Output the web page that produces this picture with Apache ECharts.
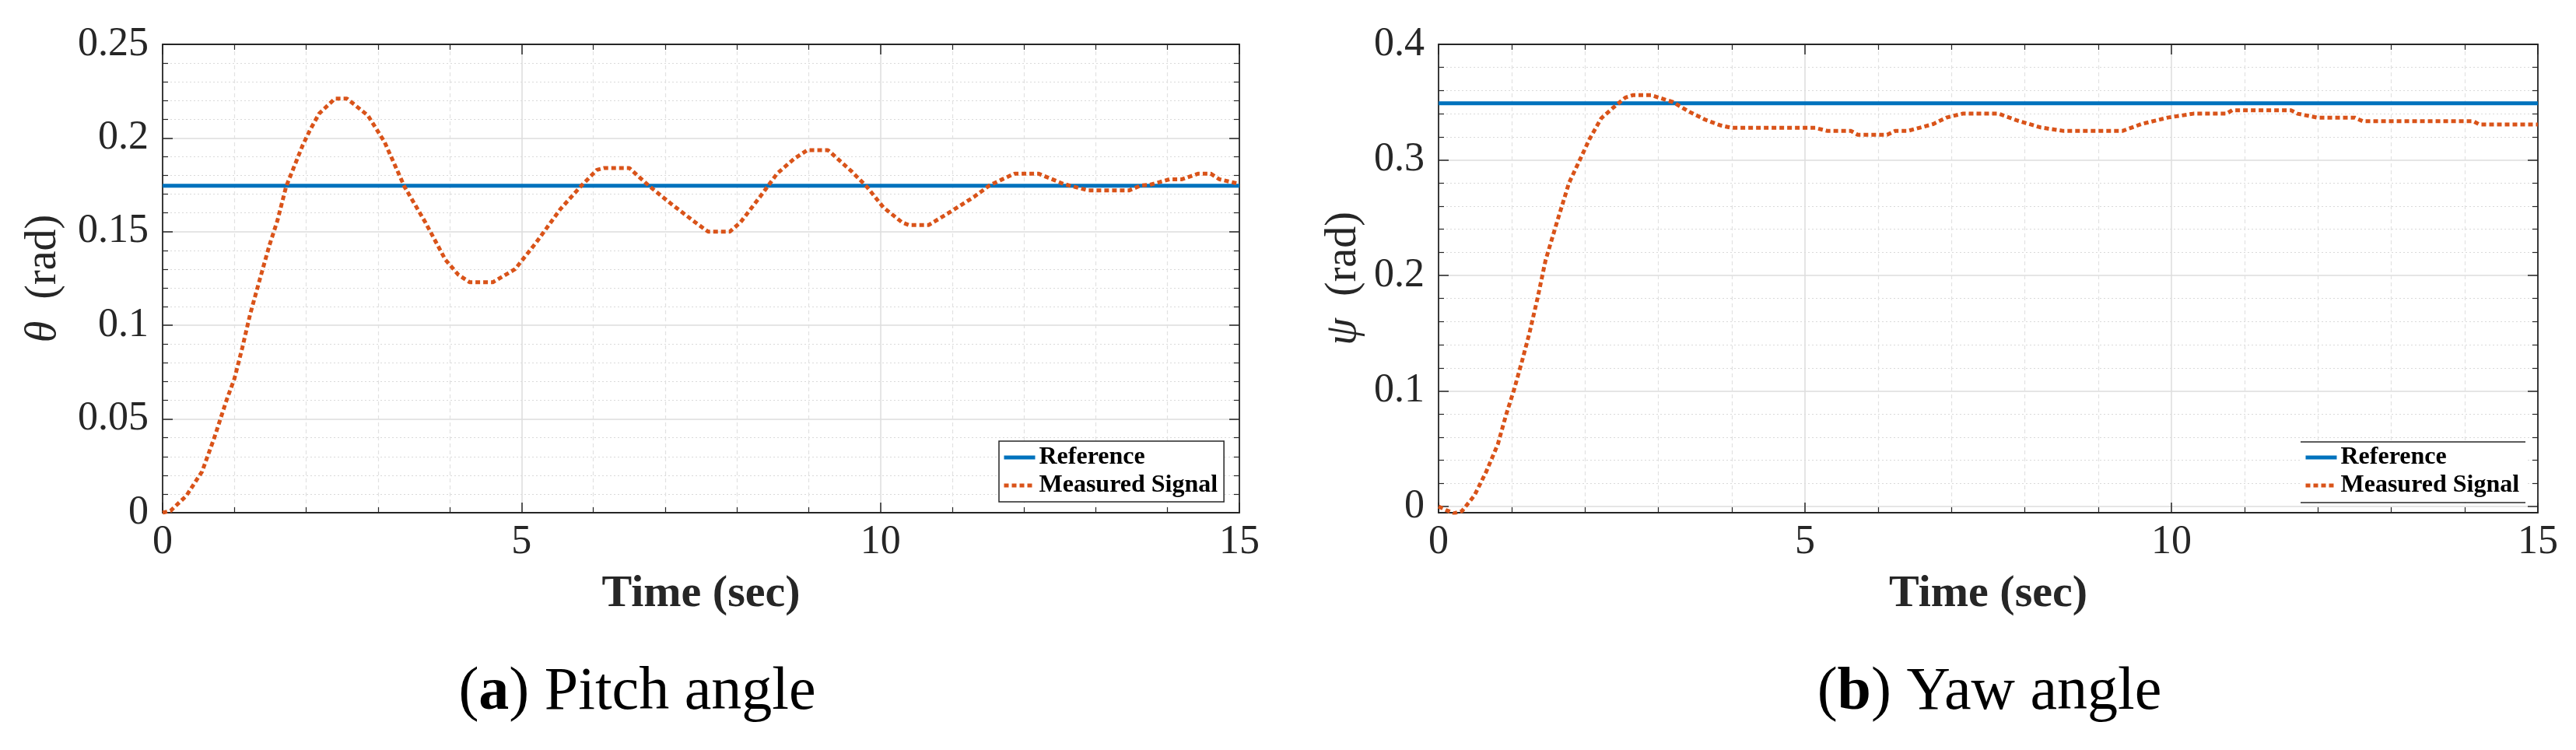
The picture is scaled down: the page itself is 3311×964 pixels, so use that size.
<!DOCTYPE html>
<html>
<head>
<meta charset="utf-8">
<script src="https://cdn.jsdelivr.net/npm/echarts@6/dist/echarts.min.js"></script>
<style>
html,body{margin:0;padding:0;background:#fff;}
#chart{width:3311px;height:964px;}
</style>
</head>
<body>
<div id="chart"></div>
<script>
// ---------------- data ----------------
const seriesNames = ['Reference', 'Measured Signal'];
const xTicks = [0, 5, 10, 15];
const pitchTicks = [0, 0.05, 0.1, 0.15, 0.2, 0.25];
const yawTicks = [0, 0.1, 0.2, 0.3, 0.4];

const pitchReference = 0.1745;
const pitchTime = [0, 0.11, 0.33, 0.55, 0.72, 0.89, 1.0, 1.11, 1.22, 1.35, 1.49, 1.6, 1.72, 1.95, 2.05, 2.18, 2.4, 2.57, 2.86, 3.09, 3.37, 3.66, 3.94, 4.12, 4.28, 4.6, 4.91, 5.2, 5.54, 5.82, 6.05, 6.15, 6.5, 6.79, 7.08, 7.42, 7.6, 7.9, 8.05, 8.33, 8.56, 8.8, 8.98, 9.27, 9.59, 9.81, 10.04, 10.3, 10.4, 10.67, 10.95, 11.3, 11.52, 11.7, 11.87, 12.2, 12.55, 12.9, 13.46, 13.63, 13.75, 14.03, 14.2, 14.43, 14.6, 14.72, 15.0];
const pitchMeasured = [0, 0.001, 0.009, 0.022, 0.040, 0.060, 0.0715, 0.088, 0.106, 0.124, 0.143, 0.156, 0.174, 0.196, 0.204, 0.213, 0.221, 0.221, 0.212, 0.198, 0.174, 0.155, 0.135, 0.127, 0.123, 0.123, 0.130, 0.144, 0.162, 0.174, 0.183, 0.184, 0.184, 0.174, 0.165, 0.155, 0.150, 0.150, 0.155, 0.169, 0.181, 0.189, 0.1935, 0.1935, 0.1825, 0.174, 0.163, 0.155, 0.1535, 0.1535, 0.160, 0.1685, 0.1747, 0.178, 0.181, 0.181, 0.1755, 0.172, 0.172, 0.1747, 0.175, 0.178, 0.178, 0.181, 0.181, 0.178, 0.1755];

const yawReference = 0.349;
const yawTime = [0, 0.1, 0.21, 0.32, 0.49, 0.65, 0.81, 0.92, 1.03, 1.14, 1.24, 1.35, 1.46, 1.62, 1.78, 1.95, 2.06, 2.22, 2.38, 2.55, 2.65, 2.9, 3.0, 3.2, 3.41, 3.63, 3.84, 4.0, 5.14, 5.31, 5.63, 5.72, 6.12, 6.23, 6.4, 6.75, 6.93, 7.15, 7.64, 7.9, 8.22, 8.53, 9.33, 9.59, 9.95, 10.3, 10.75, 10.83, 11.63, 11.72, 11.99, 12.5, 12.61, 14.12, 14.2, 15.0];
const yawMeasured = [0, -0.003, -0.006, -0.004, 0.0096, 0.030, 0.054, 0.079, 0.101, 0.126, 0.150, 0.180, 0.213, 0.247, 0.280, 0.303, 0.318, 0.336, 0.345, 0.354, 0.356, 0.356, 0.354, 0.350, 0.342, 0.335, 0.330, 0.3277, 0.3277, 0.325, 0.325, 0.3217, 0.3217, 0.325, 0.325, 0.331, 0.3366, 0.340, 0.340, 0.334, 0.328, 0.325, 0.325, 0.331, 0.3366, 0.340, 0.340, 0.343, 0.343, 0.340, 0.3366, 0.3366, 0.3335, 0.3335, 0.3307, 0.3307];

const captions = ['Pitch angle', 'Yaw angle'];
const yNames = ['\u03b8', '\u03c8'];

// ---------------- styling ----------------
const FONT = 'Liberation Serif';
const INK = '#262626';
const BLUE = '#0072BD';
const ORANGE = '#D95319';
const xMin = xTicks[0], xMax = xTicks[xTicks.length - 1], xStep = xTicks[1] - xTicks[0];

function zip(a, b) { return a.map((v, i) => [v, b[i]]); }

const majorGrid = { show: true, lineStyle: { color: '#dcdcdc', width: 1.5 } };
const minorGridX = { show: true, lineStyle: { color: '#e2e2e2', width: 1.2, type: [5, 4] } };
const minorGridY = { show: true, lineStyle: { color: '#dadada', width: 1.2, type: [2, 3] } };
const tick = { show: true, inside: true, length: 13, lineStyle: { color: INK, width: 1.5 } };
const minorTick = { show: true, splitNumber: 5, length: 7, lineStyle: { color: INK, width: 1.2 } };
const axLine = { show: true, onZero: false, lineStyle: { color: INK, width: 1.8 } };
const tickLabel = { show: true, fontFamily: FONT, fontSize: 52, color: INK };

function xBottom(grid, showGrid) {
  return {
    type: 'value', gridIndex: grid, position: 'bottom', min: xMin, max: xMax, interval: xStep,
    axisLine: axLine, axisTick: tick, minorTick: minorTick,
    axisLabel: Object.assign({ margin: 12 }, tickLabel),
    splitLine: showGrid ? majorGrid : { show: false },
    minorSplitLine: showGrid ? minorGridX : { show: false },
    name: 'Time (sec)', nameLocation: 'middle', nameGap: 76,
    nameTextStyle: { fontFamily: FONT, fontSize: 58, fontWeight: 'bold', color: INK }
  };
}
function xTop(grid) {
  return {
    type: 'value', gridIndex: grid, position: 'top', min: xMin, max: xMax, interval: xStep,
    axisLine: axLine, axisTick: tick, minorTick: minorTick, axisLabel: { show: false },
    splitLine: { show: false }, minorSplitLine: { show: false }
  };
}
function yAxisCfg(grid, pos, min, max, step, opts) {
  const o = {
    type: 'value', gridIndex: grid, position: pos, min: min, max: max, interval: step,
    axisLine: opts.line ? axLine : { show: false },
    axisTick: opts.ticks ? tick : { show: false },
    minorTick: opts.ticks ? minorTick : { show: false },
    axisLabel: opts.labels ? Object.assign({ margin: 18 }, tickLabel) : { show: false },
    splitLine: opts.grid ? majorGrid : { show: false },
    minorSplitLine: opts.grid ? minorGridY : { show: false }
  };
  if (opts.name) {
    o.name = '{i|' + opts.name + '}  (rad)';
    o.nameLocation = 'middle';
    o.nameGap = opts.nameGap;
    o.nameTextStyle = {
      fontFamily: FONT, fontSize: 56, color: INK,
      rich: { i: { fontFamily: FONT, fontSize: 56, fontStyle: 'italic', color: INK } }
    };
  }
  return o;
}

const pitchStep = pitchTicks[1] - pitchTicks[0];
const yawStep = yawTicks[1] - yawTicks[0];
const yawBottom = -0.0054; // axis extends slightly below zero

const legendBase = {
  orient: 'vertical', top: 567, padding: [5, 8, 5, 4], itemGap: 4,
  itemWidth: 40, itemHeight: 14, backgroundColor: '#fff',
  itemStyle: { opacity: 0 },
  lineStyle: { width: 5 },
  textStyle: { fontFamily: FONT, fontSize: 32, fontWeight: 'bold', color: '#000' },
  data: seriesNames
};

const option = {
  backgroundColor: '#fff',
  animation: false,
  grid: [
    { left: 209, right: 1718, top: 57, bottom: 305 },
    { left: 1849, right: 49, top: 57, bottom: 305 },
    { left: 1849, right: 49, top: 57, bottom: 313 }
  ],
  xAxis: [
    xBottom(0, true), xTop(0),
    xBottom(1, true), xTop(1),
    { type: 'value', gridIndex: 2, min: xMin, max: xMax, show: false }
  ],
  yAxis: [
    yAxisCfg(0, 'left', pitchTicks[0], pitchTicks[pitchTicks.length - 1], pitchStep,
      { line: true, ticks: true, labels: true, grid: true, name: yNames[0], nameGap: 125 }),
    yAxisCfg(0, 'right', pitchTicks[0], pitchTicks[pitchTicks.length - 1], pitchStep,
      { line: true, ticks: true }),
    // data axis of yaw plot (extends below zero)
    yAxisCfg(1, 'left', yawBottom, yawTicks[yawTicks.length - 1], null,
      { line: true, name: yNames[1], nameGap: 94 }),
    yAxisCfg(1, 'right', yawBottom, yawTicks[yawTicks.length - 1], null, { line: true }),
    // tick / grid axes of yaw plot
    yAxisCfg(2, 'left', yawTicks[0], yawTicks[yawTicks.length - 1], yawStep,
      { ticks: true, labels: true, grid: true }),
    yAxisCfg(2, 'right', yawTicks[0], yawTicks[yawTicks.length - 1], yawStep, { ticks: true })
  ],
  legend: [
    Object.assign({}, legendBase, { left: 1284, borderColor: INK, borderWidth: 1.5 }),
    Object.assign({}, legendBase, { left: 2957, borderWidth: 0 })
  ],
  series: [
    { name: seriesNames[0], type: 'line', xAxisIndex: 0, yAxisIndex: 0, showSymbol: false, symbol: 'none',
      lineStyle: { color: BLUE, width: 5 }, itemStyle: { color: BLUE },
      data: [[xMin, pitchReference], [xMax, pitchReference]], z: 3 },
    { name: seriesNames[1], type: 'line', xAxisIndex: 0, yAxisIndex: 0, showSymbol: false, symbol: 'none',
      lineStyle: { color: ORANGE, width: 5, type: [6, 4] }, itemStyle: { color: ORANGE },
      data: zip(pitchTime, pitchMeasured), z: 4 },
    { name: seriesNames[0], type: 'line', xAxisIndex: 2, yAxisIndex: 2, showSymbol: false, symbol: 'none',
      lineStyle: { color: BLUE, width: 5 }, itemStyle: { color: BLUE },
      data: [[xMin, yawReference], [xMax, yawReference]], z: 3 },
    { name: seriesNames[1], type: 'line', xAxisIndex: 2, yAxisIndex: 2, showSymbol: false, symbol: 'none',
      lineStyle: { color: ORANGE, width: 5, type: [6, 4] }, itemStyle: { color: ORANGE },
      data: zip(yawTime, yawMeasured), z: 4 }
  ],
  graphic: [
    { type: 'line', shape: { x1: 2957, y1: 568, x2: 3246, y2: 568 }, style: { stroke: INK, lineWidth: 1.5 }, z: 100 },
    { type: 'line', shape: { x1: 2957, y1: 646, x2: 3246, y2: 646 }, style: { stroke: INK, lineWidth: 1.5 }, z: 100 },
    { type: 'text', x: 819, y: 852, style: {
        text: '({b|a}) ' + captions[0], align: 'center', verticalAlign: 'top',
        font: '78px "Liberation Serif"', fill: '#000',
        rich: { b: { fontFamily: FONT, fontSize: 78, fontWeight: 'bold', fill: '#000' } } } },
    { type: 'text', x: 2557, y: 852, style: {
        text: '({b|b}) ' + captions[1], align: 'center', verticalAlign: 'top',
        font: '78px "Liberation Serif"', fill: '#000',
        rich: { b: { fontFamily: FONT, fontSize: 78, fontWeight: 'bold', fill: '#000' } } } }
  ]
};

const chart = echarts.init(document.getElementById('chart'), null, { renderer: 'canvas' });
chart.setOption(option);
</script>
</body>
</html>
